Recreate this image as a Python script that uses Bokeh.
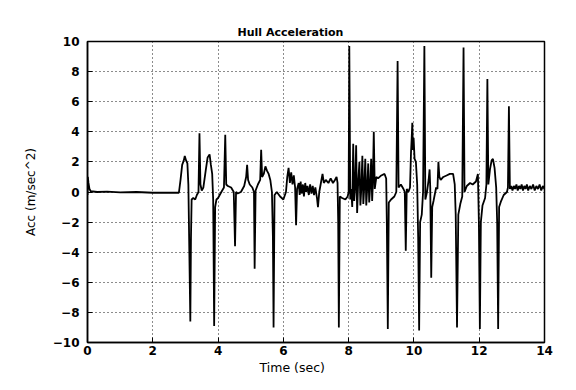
from bokeh.plotting import figure
from bokeh.models import Range1d, FixedTicker, Title
from bokeh.embed import file_html
from bokeh.resources import INLINE

# ---- data ----
time_sec = [
    0.00, 0.01, 0.03, 0.06, 0.10, 0.30, 0.60, 1.00, 1.50, 2.00,
    2.50, 2.80, 2.85, 2.90, 2.95, 2.98, 3.02, 3.06, 3.09, 3.12,
    3.15, 3.17, 3.19, 3.24, 3.30, 3.35, 3.40, 3.43, 3.46, 3.50,
    3.55, 3.62, 3.68, 3.74, 3.78, 3.82, 3.85, 3.88, 3.91, 3.95,
    4.00, 4.10, 4.18, 4.22, 4.25, 4.30, 4.40, 4.48, 4.52, 4.55,
    4.60, 4.70, 4.80, 4.86, 4.89, 4.92, 4.97, 5.05, 5.10, 5.12,
    5.15, 5.22, 5.29, 5.32, 5.35, 5.40, 5.45, 5.50, 5.55, 5.60,
    5.65, 5.68, 5.70, 5.73, 5.80, 5.90, 6.00, 6.08, 6.12, 6.16,
    6.20, 6.24, 6.28, 6.32, 6.36, 6.39, 6.42, 6.47, 6.50, 6.53,
    6.56, 6.60, 6.63, 6.67, 6.70, 6.74, 6.78, 6.82, 6.86, 6.90,
    6.94, 6.98, 7.03, 7.06, 7.10, 7.15, 7.20, 7.24, 7.30, 7.38,
    7.45, 7.52, 7.58, 7.63, 7.66, 7.68, 7.70, 7.73, 7.80, 7.90,
    7.97, 8.00, 8.02, 8.05, 8.08, 8.11, 8.14, 8.17, 8.20, 8.23,
    8.26, 8.29, 8.33, 8.36, 8.39, 8.42, 8.45, 8.48, 8.51, 8.54,
    8.57, 8.60, 8.63, 8.66, 8.69, 8.72, 8.74, 8.77, 8.80, 8.85,
    8.90, 9.00, 9.10, 9.15, 9.17, 9.20, 9.23, 9.30, 9.40, 9.46,
    9.50, 9.53, 9.60, 9.68, 9.72, 9.75, 9.78, 9.83, 9.88, 9.91,
    9.93, 9.95, 9.97, 9.99, 10.02, 10.06, 10.10, 10.13, 10.16, 10.19,
    10.24, 10.28, 10.32, 10.35, 10.40, 10.45, 10.48, 10.50, 10.53, 10.56,
    10.60, 10.68, 10.72, 10.75, 10.78, 10.82, 10.90, 11.00, 11.10, 11.20,
    11.25, 11.28, 11.32, 11.36, 11.42, 11.48, 11.52, 11.55, 11.62, 11.72,
    11.80, 11.90, 11.96, 11.99, 12.02, 12.05, 12.10, 12.18, 12.22, 12.25,
    12.28, 12.33, 12.38, 12.42, 12.47, 12.52, 12.55, 12.58, 12.61, 12.67,
    12.75, 12.85, 12.88, 12.91, 12.94, 12.98, 13.02, 13.06, 13.10, 13.14,
    13.18, 13.22, 13.26, 13.30, 13.34, 13.38, 13.42, 13.46, 13.50, 13.55,
    13.60, 13.65, 13.70, 13.75, 13.80, 13.85, 13.90, 13.95, 14.00,
]
acc = [
    -0.2, 1.0, 0.6, 0.2, 0.05, 0.0, 0.03, -0.02, 0.0, -0.05,
    -0.05, -0.05, 0.8, 1.8, 2.1, 2.4, 2.1, 1.9, 0.5, -4.0,
    -8.6, -3.0, -0.5, -0.4, -0.5, -0.2, 0.0, 3.9, 0.5, 0.1,
    0.3, 1.4, 2.3, 2.5, 1.8, 1.2, -0.5, -8.9, -1.0, -0.5,
    -0.4, 0.0, 0.3, 3.8, 0.5, 0.4, 0.3, 0.0, -3.6, 0.0,
    -0.1, 0.0, 0.4, 1.0, 1.8, 0.8, 0.5, 0.3, 0.0, -5.1,
    0.1, 0.5, 0.8, 2.8, 1.0, 1.2, 1.7, 1.4, 1.2, 0.8,
    0.0, -3.0, -9.0, -0.2, 0.0, -0.3, -0.5, 0.0, 1.0, 1.6,
    0.6, 1.3, 0.5, 1.1, 0.3, -2.2, 0.2, 0.6, -0.2, 0.7,
    -0.1, 0.5, -0.3, 0.6, 0.0, 0.4, -0.2, 0.5, -0.1, 0.4,
    -0.2, 0.3, -0.4, -1.0, 0.0, 0.6, 1.2, 0.6, 0.8, 0.6,
    0.9, 0.6, 0.8, 1.0, 0.6, -2.0, -9.0, -0.3, -0.4, -0.5,
    -0.3, 0.0, 9.7, -0.5, 0.2, -1.0, 3.2, -0.6, 0.3, 3.1,
    -1.4, 0.5, 2.0, -0.9, 0.3, 2.4, -0.8, 0.4, 2.2, -0.9,
    0.3, 1.9, -0.7, 0.4, 2.2, -0.6, 0.5, 4.0, 0.2, 1.0,
    0.9, 1.1, 1.2, 0.9, -2.0, -9.1, -0.7, -0.5, -0.3, 0.0,
    8.7, 0.3, 0.5, 0.2, 0.0, -3.9, 0.2, 0.0, 0.3, 2.6,
    3.5, 4.6, 2.8, 3.6, 2.2, 2.0, 0.5, -3.0, -9.2, -2.0,
    -1.5, 0.0, 9.7, -0.5, 0.0, 0.8, 1.5, 0.3, -5.7, -1.0,
    -0.6, 0.3, 0.2, 2.0, 1.0, 0.8, 1.0, 1.1, 1.2, 1.2,
    0.5, -1.5, -9.0, -1.5, -0.8, -0.3, 9.6, 0.0, 0.4, 0.6,
    0.5, 0.7, 1.2, -2.0, -9.1, -2.0, -0.9, -0.4, 0.5, 7.5,
    0.5, 1.5, 2.1, 2.2, 1.6, 0.3, -2.0, -9.1, -1.0, -0.6,
    -0.2, 0.0, 0.3, 5.7, 0.2, 0.4, 0.1, 0.4, 0.2, 0.5,
    0.1, 0.4, 0.2, 0.5, 0.1, 0.4, 0.2, 0.5, 0.1, 0.4,
    0.2, 0.5, 0.1, 0.4, 0.2, 0.5, 0.1, 0.4, 0.2,
]
x_ticks = [0, 2, 4, 6, 8, 10, 12, 14]
y_ticks = [-10, -8, -6, -4, -2, 0, 2, 4, 6, 8, 10]
title_text = "Hull Acceleration"
x_label = "Time (sec)"
y_label = "Acc (m/sec^2)"

FONT = "DejaVu Sans"

p = figure(width=576, height=390, output_backend="svg", toolbar_location=None,
           x_range=Range1d(0, 14), y_range=Range1d(-10, 10),
           min_border_left=87, min_border_right=32,
           min_border_top=41, min_border_bottom=48)

p.title.text = title_text
p.title.align = "left"
p.title.offset = 150
p.title.text_font = FONT
p.title.text_font_size = "11px"
p.title.text_font_style = "bold"
p.title.text_color = "black"
p.title.standoff = 6

p.add_layout(Title(text=x_label, align="left", offset=172, text_font=FONT,
                   text_font_size="12.5px", text_font_style="normal",
                   text_color="black", standoff=0), "below")

p.line(time_sec, acc, line_color="black", line_width=1.8)

for ax in (p.xaxis[0], p.yaxis[0]):
    ax.major_tick_in = 5
    ax.major_tick_out = 0
    ax.minor_tick_line_color = None
    ax.axis_line_color = "black"
    ax.axis_line_width = 1.5
    ax.major_tick_line_color = "black"
    ax.major_label_text_font = FONT
    ax.major_label_text_font_size = "12px"
    ax.major_label_text_font_style = "bold"
    ax.major_label_text_color = "black"

p.xaxis.ticker = FixedTicker(ticks=x_ticks)
p.yaxis.ticker = FixedTicker(ticks=y_ticks)
p.xaxis.major_label_standoff = 3
p.yaxis.major_label_standoff = 8

p.yaxis.axis_label = y_label
p.yaxis.axis_label_text_font = FONT
p.yaxis.axis_label_text_font_size = "12px"
p.yaxis.axis_label_text_font_style = "normal"
p.yaxis.axis_label_text_color = "black"
p.yaxis.axis_label_standoff = 12

for g in (p.xgrid[0], p.ygrid[0]):
    g.grid_line_color = "black"
    g.grid_line_dash = "1 3"
    g.grid_line_width = 1
    g.grid_line_alpha = 0.9

p.outline_line_color = "black"
p.outline_line_width = 1.5
p.background_fill_color = "white"
p.border_fill_color = "white"

open("out.html", "w").write(file_html(p, INLINE))
